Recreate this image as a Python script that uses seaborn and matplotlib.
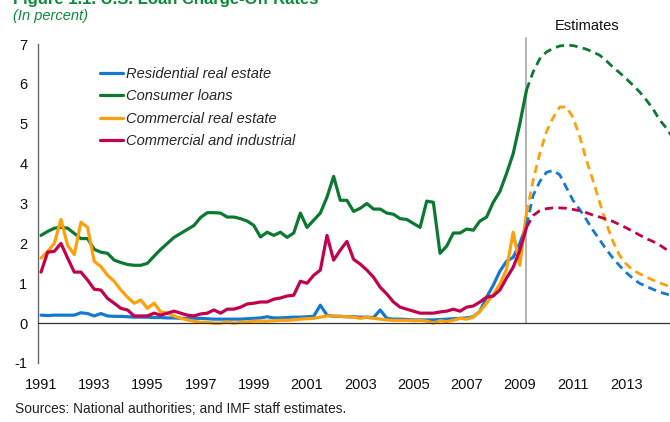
import matplotlib
matplotlib.use("Agg")
import matplotlib.pyplot as plt
import numpy as np
import pandas as pd
import seaborn as sns

# quarterly charge-off rates, 1991Q1 .. 2009Q2 (actual) and 2009Q2 .. 2015Q1 (estimates)
series_names = ["Residential real estate", "Consumer loans",
                "Commercial real estate", "Commercial and industrial"]
series_colors = ["#1479d2", "#0b7a30", "#ffa00a", "#c2024e"]

first_year = 1991
est_first_year = 2009.25

residential = [0.20, 0.19, 0.20, 0.20, 0.20, 0.20, 0.26, 0.24, 0.18, 0.24,
               0.18, 0.17, 0.17, 0.16, 0.15, 0.15, 0.15, 0.14, 0.14, 0.13,
               0.13, 0.12, 0.12, 0.12, 0.12, 0.11, 0.10, 0.10, 0.10, 0.10,
               0.10, 0.11, 0.12, 0.13, 0.16, 0.13, 0.13, 0.14, 0.15, 0.15,
               0.16, 0.17, 0.45, 0.20, 0.17, 0.17, 0.16, 0.16, 0.15, 0.15,
               0.14, 0.33, 0.12, 0.10, 0.10, 0.09, 0.08, 0.08, 0.08, 0.08,
               0.09, 0.10, 0.11, 0.12, 0.13, 0.16, 0.30, 0.65, 0.95, 1.30,
               1.55, 1.65, 2.00, 2.45]
consumer = [2.20, 2.30, 2.38, 2.40, 2.38, 2.25, 2.12, 2.12, 1.85, 1.78,
            1.75, 1.58, 1.52, 1.47, 1.45, 1.45, 1.50, 1.68, 1.85, 2.00,
            2.15, 2.25, 2.35, 2.45, 2.65, 2.77, 2.77, 2.76, 2.66, 2.66,
            2.62, 2.56, 2.45, 2.16, 2.28, 2.20, 2.28, 2.15, 2.26, 2.76,
            2.40, 2.58, 2.76, 3.16, 3.68, 3.08, 3.08, 2.80, 2.88, 3.00,
            2.86, 2.86, 2.76, 2.73, 2.62, 2.60, 2.50, 2.40, 3.06, 3.03,
            1.75, 1.93, 2.26, 2.26, 2.36, 2.33, 2.56, 2.66, 3.03, 3.30,
            3.75, 4.25, 5.00, 5.84]
commercial_re = [1.63, 1.80, 2.00, 2.60, 1.95, 1.72, 2.53, 2.40, 1.55, 1.42,
                 1.20, 1.05, 0.83, 0.65, 0.50, 0.58, 0.37, 0.50, 0.28, 0.25,
                 0.18, 0.12, 0.08, 0.05, 0.02, 0.02, 0.00, 0.00, 0.03, 0.00,
                 0.02, 0.03, 0.05, 0.05, 0.05, 0.06, 0.07, 0.07, 0.08, 0.10,
                 0.11, 0.12, 0.15, 0.18, 0.18, 0.17, 0.16, 0.15, 0.12, 0.15,
                 0.12, 0.10, 0.08, 0.07, 0.07, 0.07, 0.06, 0.07, 0.05, 0.00,
                 0.06, 0.04, 0.07, 0.12, 0.10, 0.15, 0.30, 0.50, 0.72, 0.98,
                 1.35, 2.28, 1.45, 2.76]
commercial_ind = [1.28, 1.78, 1.80, 2.00, 1.63, 1.28, 1.28, 1.08, 0.85, 0.83,
                  0.62, 0.50, 0.37, 0.33, 0.18, 0.18, 0.18, 0.25, 0.20, 0.25,
                  0.30, 0.25, 0.20, 0.18, 0.23, 0.25, 0.33, 0.25, 0.35, 0.35,
                  0.40, 0.48, 0.50, 0.53, 0.53, 0.60, 0.63, 0.68, 0.70, 1.05,
                  1.00, 1.20, 1.33, 2.20, 1.58, 1.83, 2.05, 1.60, 1.48, 1.33,
                  1.15, 0.90, 0.73, 0.53, 0.40, 0.35, 0.30, 0.25, 0.25, 0.25,
                  0.28, 0.30, 0.35, 0.30, 0.40, 0.43, 0.53, 0.65, 0.68, 0.83,
                  1.13, 1.40, 1.83, 2.40]

est_residential = [2.45, 3.20, 3.55, 3.78, 3.83, 3.72, 3.40, 3.08, 2.85, 2.60,
                   2.33, 2.09, 1.85, 1.63, 1.44, 1.27, 1.12, 1.00, 0.92, 0.85,
                   0.78, 0.73, 0.69, 0.66]
est_consumer = [5.84, 6.30, 6.63, 6.80, 6.89, 6.95, 6.97, 6.96, 6.92, 6.87,
                6.80, 6.72, 6.58, 6.42, 6.28, 6.13, 5.97, 5.80, 5.60, 5.38,
                5.10, 4.90, 4.65, 4.40]
est_commercial_re = [2.76, 3.58, 4.25, 4.80, 5.15, 5.42, 5.42, 5.16, 4.68, 4.10,
                     3.58, 3.03, 2.50, 2.05, 1.70, 1.48, 1.33, 1.24, 1.16, 1.08,
                     1.01, 0.95, 0.90, 0.85]
est_commercial_ind = [2.40, 2.70, 2.82, 2.87, 2.89, 2.89, 2.88, 2.85, 2.82, 2.77,
                      2.71, 2.66, 2.61, 2.55, 2.47, 2.39, 2.30, 2.21, 2.12, 2.05,
                      1.96, 1.85, 1.74, 1.63]

tick_label_years = list(range(1991, 2014, 2))
y_ticks = list(range(-1, 8))


def to_long(values_list, start):
    rows = []
    for name, vals in zip(series_names, values_list):
        for i, v in enumerate(vals):
            rows.append((start + i / 4, name, v))
    return pd.DataFrame(rows, columns=["year", "series", "rate"])


df_act = to_long([residential, consumer, commercial_re, commercial_ind], first_year)
df_est = to_long([est_residential, est_consumer, est_commercial_re, est_commercial_ind],
                 est_first_year)

sns.set_style("white")
plt.rcParams["font.family"] = ["Liberation Sans", "DejaVu Sans"]
plt.rcParams["axes.unicode_minus"] = False
plt.rcParams["lines.scale_dashes"] = False

green = "#0b8a3a"
W, H = 670, 422
fig = plt.figure(figsize=(W / 100, H / 100), dpi=100)
ax = fig.add_axes([37.7 / W, 1 - 363 / H, (W - 37.7) / W, 319 / H])

sns.lineplot(data=df_act, x="year", y="rate", hue="series", hue_order=series_names,
             palette=series_colors, linewidth=2.3, errorbar=None, ax=ax)
leg = ax.get_legend()
handles = leg.legend_handles
labels = [t.get_text() for t in leg.get_texts()]
leg.remove()

n_before = len(ax.lines)
sns.lineplot(data=df_est, x="year", y="rate", hue="series", hue_order=series_names,
             palette=series_colors, linewidth=2.0, errorbar=None, legend=False, ax=ax)
for ln in ax.lines[n_before:]:
    ln.set_dashes([6, 3.8])
    ln.set_clip_on(True)

for h in handles:
    h.set_linewidth(2.3)
ax.legend(handles, labels, loc="upper left", bbox_to_anchor=(0.0985, 0.929),
          frameon=False, borderaxespad=0, borderpad=0, handlelength=1.55,
          handletextpad=0.25, labelspacing=0.59,
          prop={"style": "italic", "size": 10.5})

# split between actual and estimates
last_actual = first_year + (len(consumer) - 1) / 4
ax.plot([last_actual, last_actual], [0, 7.15], color="#a6a6a6", lw=1.2,
        clip_on=False, zorder=1)
ax.text(2011.52, 7.45, "Estimates", ha="center", va="center", fontsize=10.5,
        color="#111111", clip_on=False)

ax.set_xlim(first_year - 0.125, first_year - 0.125 + (W - 37.7) / 26.6)
ax.set_ylim(-1, 7)
ax.set_yticks(y_ticks)
ax.set_xticks(np.arange(first_year, 2015) - 0.125)
ax.tick_params(axis="x", direction="in", length=3, width=0.9, color="#333333",
               labelbottom=False)
ax.tick_params(axis="y", direction="in", length=3.5, width=0.9, color="#555555",
               pad=7.5, labelsize=10.5, labelcolor="#111111")
ax.set_xlabel("")
ax.set_ylabel("")
for s in ["top", "right"]:
    ax.spines[s].set_visible(False)
ax.spines["bottom"].set_position(("data", 0))
ax.spines["bottom"].set_color("#333333")
ax.spines["bottom"].set_linewidth(0.9)
ax.spines["left"].set_color("#6a6a6a")
ax.spines["left"].set_linewidth(1.0)

sec = ax.secondary_xaxis(0)
sec.set_xticks(tick_label_years)
sec.set_xticklabels([str(y) for y in tick_label_years])
sec.tick_params(length=0, pad=11, labelsize=10.5, labelcolor="#111111")
sec.spines["bottom"].set_visible(False)

fig.text(13 / W, 1 - 4 / H, "Figure 1.1. U.S. Loan Charge-Off Rates", color=green,
         fontsize=12, fontweight="bold", va="baseline", ha="left")
fig.text(13 / W, 1 - 16 / H, "(In percent)", color=green, fontsize=10.5,
         style="italic", va="center", ha="left")
fig.text(15 / W, 1 - 409 / H, "Sources: National authorities; and IMF staff estimates.",
         fontsize=9.9, color="#222222", va="center", ha="left")

fig.savefig("out.png", dpi=100)
